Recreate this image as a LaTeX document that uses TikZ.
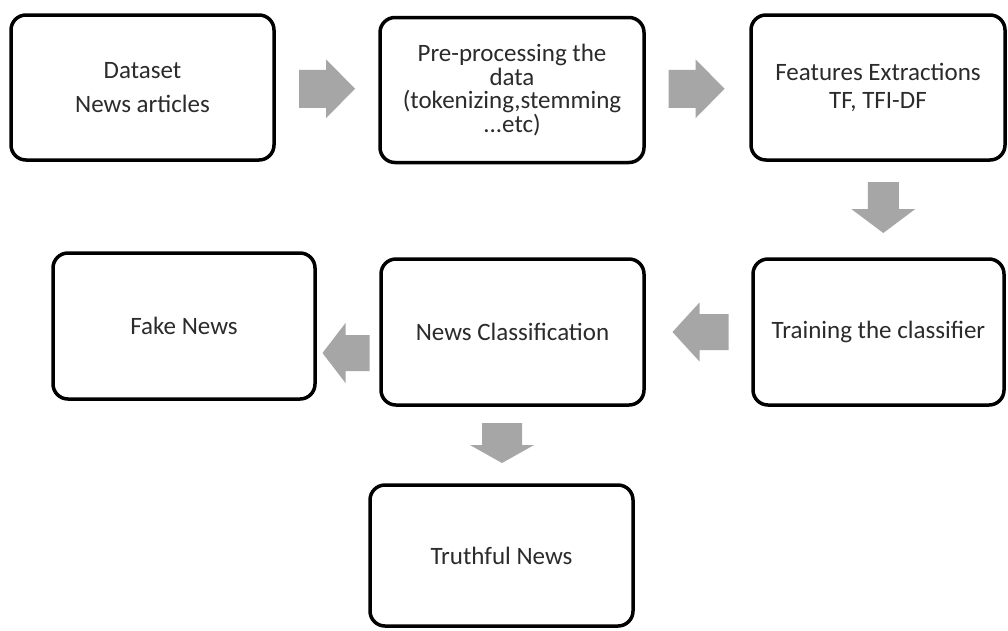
\documentclass[tikz,border=0pt]{standalone}
\usepackage{fontspec}
\setmainfont{Carlito}
\usetikzlibrary{calc}
\definecolor{arrowgray}{HTML}{A6A6A6}
\definecolor{txtgray}{HTML}{2B2B2B}
% #1 centre coordinate, #2 direction angle, #3 length, #4 head width, #5 shaft width, #6 head length
\newcommand{\blkarrow}[6]{%
  \fill[blockarrow, shift={(#1)}, rotate=#2]
    ({-#3/2},{-#5/2}) -- ({#3/2-#6},{-#5/2}) -- ({#3/2-#6},{-#4/2}) -- ({#3/2},0)
    -- ({#3/2-#6},{#4/2}) -- ({#3/2-#6},{#5/2}) -- ({-#3/2},{#5/2}) -- cycle;}
\begin{document}
\begin{tikzpicture}[x=1pt,y=1pt,
  box/.style={draw=black, line width=3.5pt, rounded corners=15pt, fill=white,
    text=txtgray, align=center, inner sep=0pt, font=\fontsize{25}{32}\selectfont},
  blockarrow/.style={fill=arrowgray, draw=none}]
\fill[white] (0,0) rectangle (1008,-630);
\useasboundingbox (0,0) rectangle (1008,-630);
% boxes
\node[box, minimum width=263pt, minimum height=145pt, font=\fontsize{25}{33.5}\selectfont] (b1) at (142.5,-87.5) {Dataset\\News articles};
\node[box, minimum width=264pt, minimum height=145pt, font=\fontsize{25}{23.5}\selectfont] (b2) at (512,-90) {Pre-processing the\\data\\(tokenizing,stemming\\...etc)};
\node[box, minimum width=254pt, minimum height=145pt, font=\fontsize{25}{28.5}\selectfont] (b3) at (878,-87.5) {Features Extractions\\TF, TFI-DF};
\node[box, minimum width=251pt, minimum height=146pt] (b4) at (878.5,-332) {Training the classifier};
\node[box, minimum width=263pt, minimum height=146pt] (b5) at (512.5,-332) {News Classification};
\node[box, minimum width=262pt, minimum height=146pt] (b6) at (184,-326) {Fake News};
\node[box, minimum width=263pt, minimum height=141pt] (b7) at (501.5,-555.5) {Truthful News};
% block arrow centres, between the boxes they join
\coordinate (a1) at ($(b1.east)!0.5!(b2.west)$);
\coordinate (a2) at ($(b2.east)!0.5!(b3.west)+(-1,0)$);
\coordinate (a3) at ($(b3.south)!0.5!(b4.north)+(5,2)$);
\coordinate (a4) at ($(b4.west)!0.5!(b5.east)+(2,0)$);
\coordinate (a5) at ($(b5.west)!0.5!(b6.east)+(-2,-24)$);
\coordinate (a6) at ($(b5.south)!0.5!(b7.north)+(-5,2)$);
\blkarrow{a1}{0}{56}{59}{38}{29}
\blkarrow{a2}{0}{56}{59}{38}{29}
\blkarrow{a3}{-90}{51}{64}{31}{24}
\blkarrow{a4}{180}{56}{59}{36}{27}
\blkarrow{a5}{180}{47}{60}{36}{23}
\blkarrow{a6}{-90}{40}{64}{40}{18}
\end{tikzpicture}
\end{document}
